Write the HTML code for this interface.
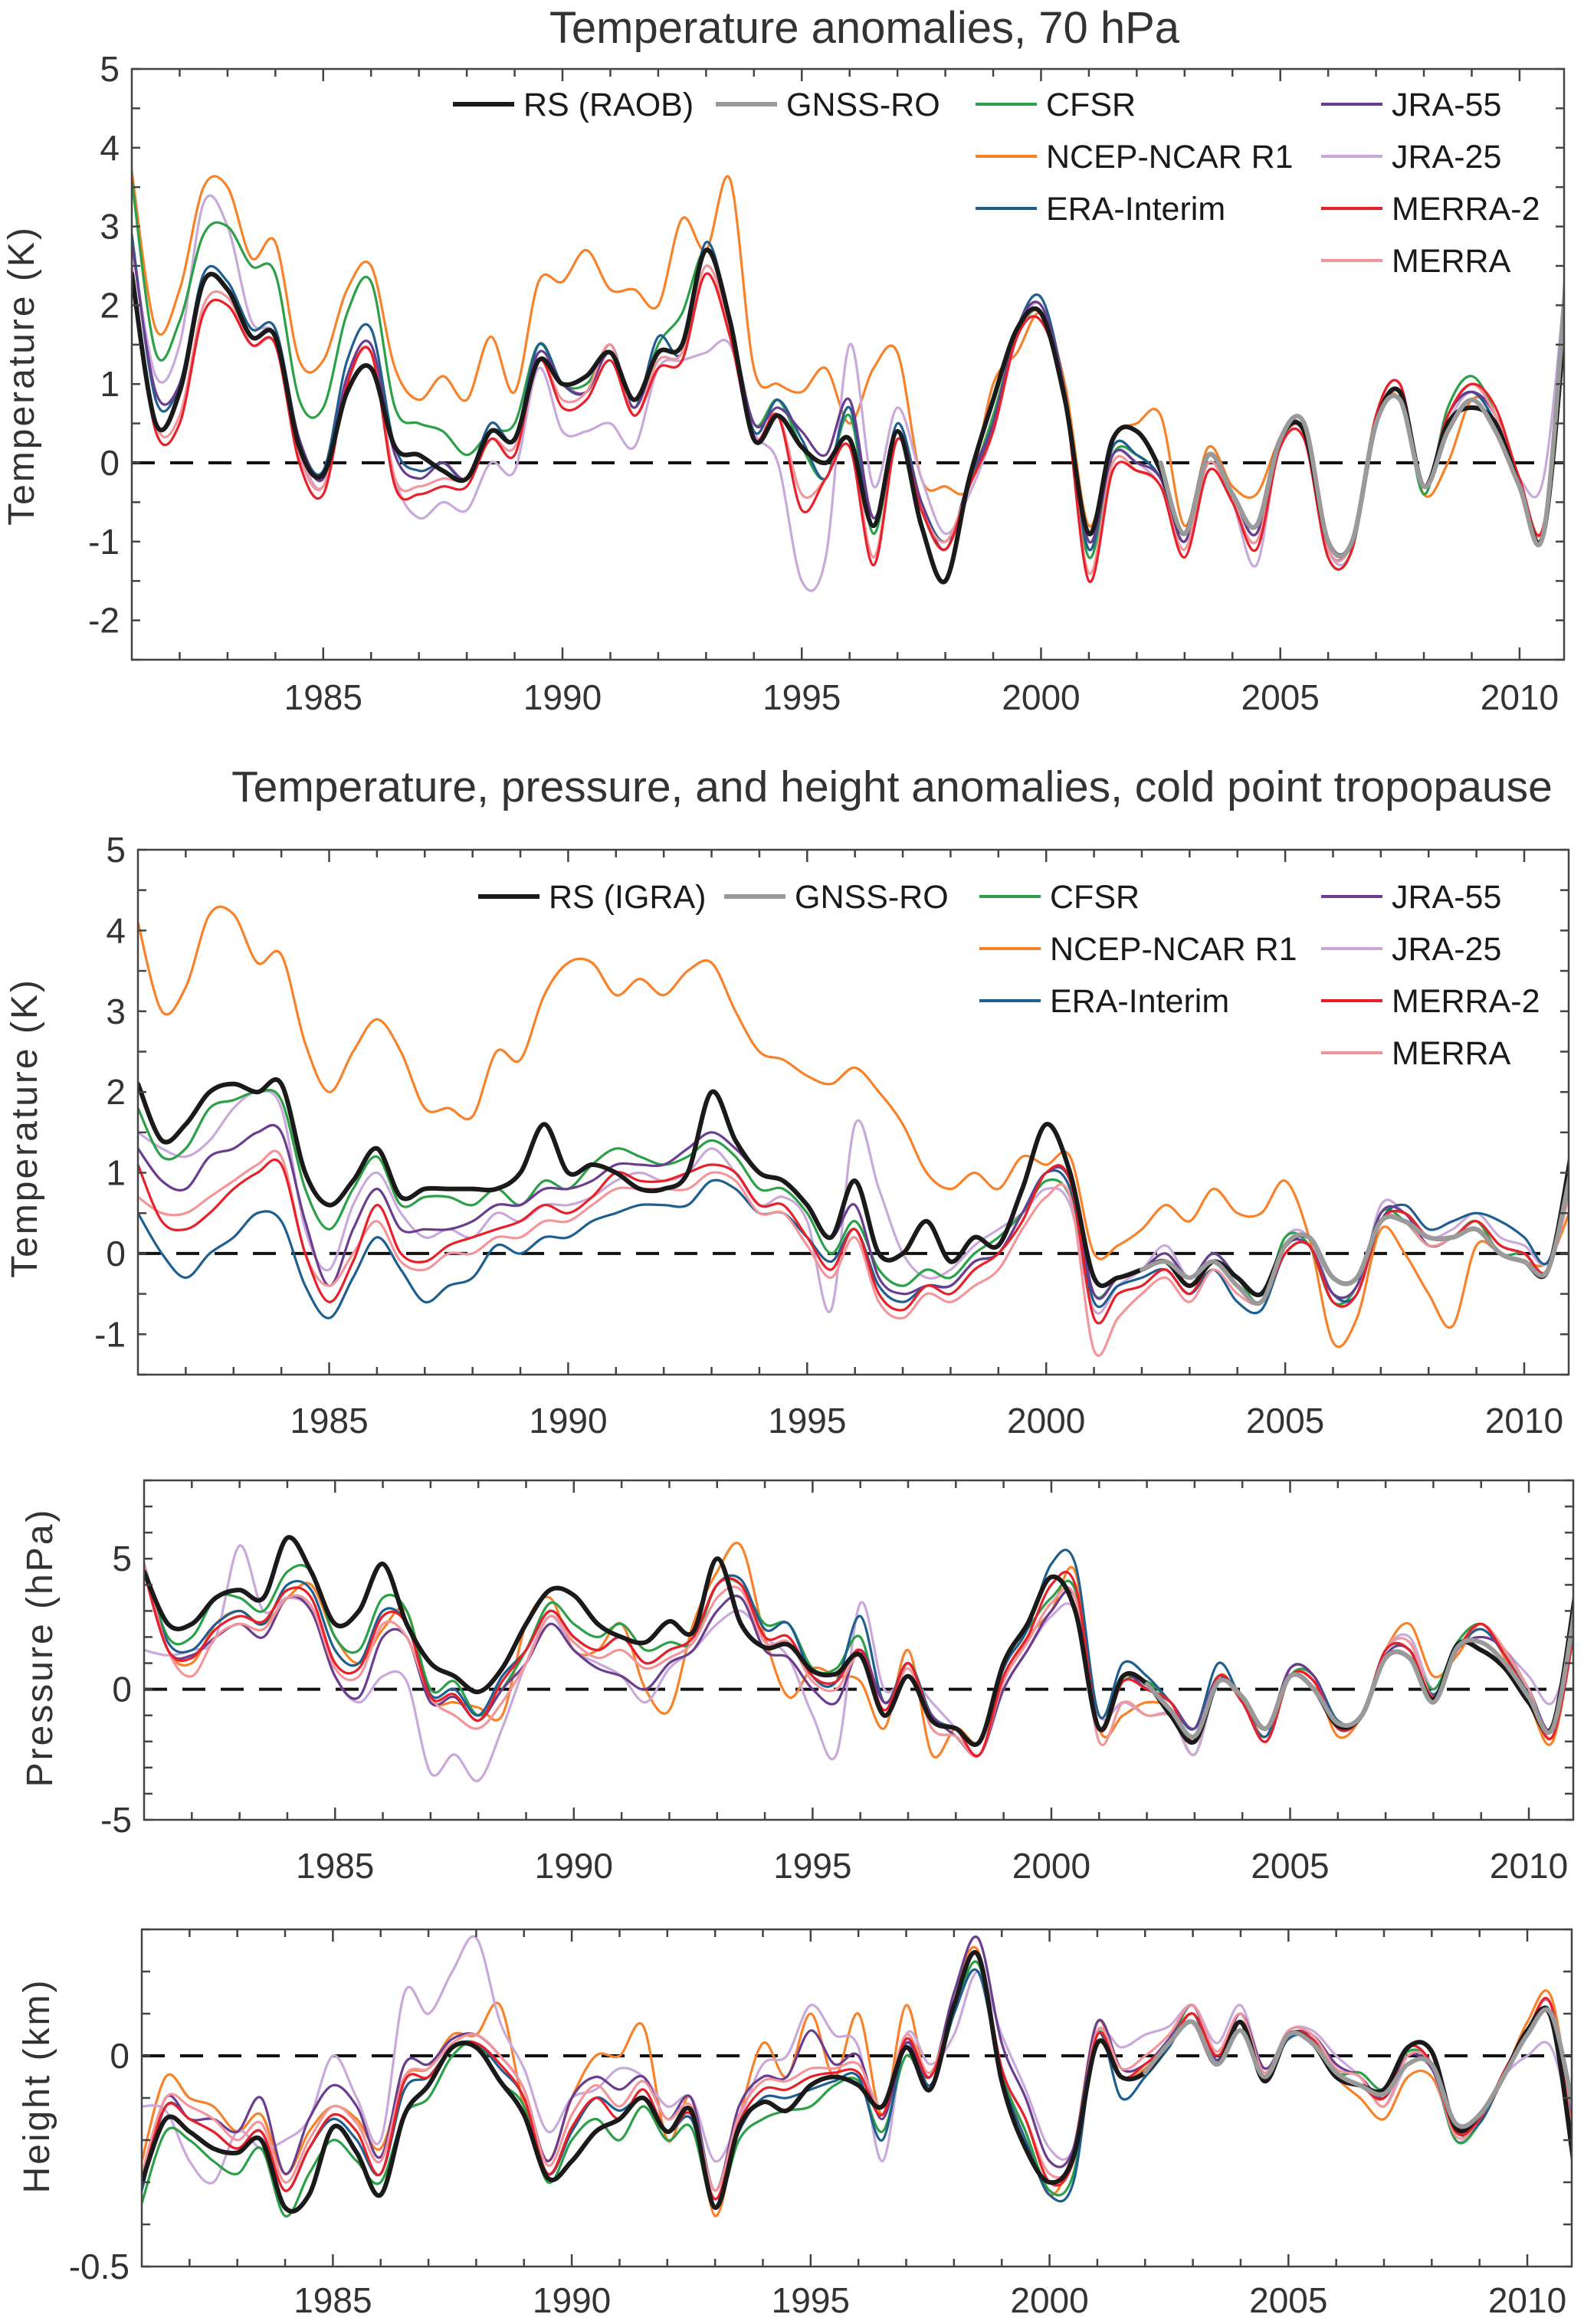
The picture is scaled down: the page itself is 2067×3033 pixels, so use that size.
<!DOCTYPE html>
<html><head><meta charset="utf-8">
<style>
html,body{margin:0;padding:0;background:#fff;}
svg{display:block;font-family:"Liberation Sans",Arial,sans-serif;}
</style></head>
<body>
<svg id="fig" width="2067" height="3033" viewBox="0 0 2067 3033" xmlns="http://www.w3.org/2000/svg">
<text x="1128" y="56" font-size="58" fill="#333" text-anchor="middle">Temperature  anomalies, 70 hPa</text>
<text x="1164" y="1046" font-size="57" fill="#333" text-anchor="middle">Temperature, pressure, and height anomalies, cold point tropopause</text>
</svg>
<script>
// time grid: half-year steps 1981.0 .. 2011.0
const years = []; for (let i = 0; i <= 60; i++) years.push(1981 + 0.5 * i);
const gnssStart = [43, 42, 42, 42];

// ---------- Panel 1: 70 hPa temperature (K) ----------
const p1_rs = [2.4,0.5,0.9,2.3,2.2,1.6,1.6,0.2,-0.15,0.9,1.2,0.2,0.1,-0.1,-0.2,0.4,0.3,1.3,1.0,1.1,1.4,0.8,1.4,1.5,2.7,1.8,0.3,0.6,0.2,0.0,0.3,-0.8,0.4,-0.8,-1.5,-0.2,0.8,1.7,1.9,0.8,-0.9,0.3,0.4,-0.1,-0.9,0.1,-0.4,-0.8,0.3,0.4,-1.0,-1.0,0.5,0.9,-0.3,0.5,0.7,0.5,-0.3,-0.9,2.2];
const p1_gnss = [0.0,-0.9,0.1,-0.4,-0.8,0.3,0.5,-1.0,-1.0,0.5,0.8,-0.3,0.4,0.8,0.4,-0.3,-0.9,2.6];
const p1_cfsr = [3.6,1.4,1.8,2.9,3.0,2.5,2.4,0.8,0.7,1.9,2.3,0.7,0.5,0.4,0.1,0.4,0.5,1.5,1.0,1.0,1.4,0.7,1.5,1.9,2.7,1.8,0.5,0.8,0.2,-0.2,0.6,-0.9,0.4,-0.6,-1.1,-0.3,0.6,1.6,1.9,0.8,-1.2,0.1,0.1,-0.2,-1.0,0.1,-0.4,-0.9,0.3,0.4,-1.2,-1.1,0.5,0.9,-0.4,0.7,1.1,0.6,-0.3,-0.9,2.4];
const p1_ncep = [3.7,1.7,2.2,3.5,3.5,2.6,2.8,1.3,1.3,2.2,2.5,1.2,0.8,1.1,0.8,1.6,0.9,2.3,2.3,2.7,2.2,2.2,2.0,3.1,2.7,3.6,1.2,1.0,0.9,1.2,0.5,1.2,1.4,-0.2,-0.3,-0.3,1.0,1.4,1.9,1.0,-0.8,0.3,0.5,0.6,-0.8,0.2,-0.3,-0.4,0.3,0.4,-1.1,-1.0,0.6,0.8,-0.4,0.0,0.8,0.6,-0.3,-0.8,2.3];
const p1_era = [2.9,0.8,1.0,2.4,2.3,1.7,1.7,0.3,-0.1,1.3,1.7,0.2,-0.1,0.0,-0.2,0.5,0.3,1.5,1.0,0.9,1.5,0.7,1.6,1.4,2.8,1.8,0.4,0.8,0.3,-0.2,0.7,-0.8,0.5,-0.5,-1.0,-0.3,0.5,1.7,2.1,0.9,-1.1,0.2,0.1,-0.2,-1.0,0.1,-0.4,-0.9,0.3,0.4,-1.1,-1.0,0.5,0.9,-0.3,0.6,0.9,0.5,-0.3,-0.9,2.3];
const p1_jra55 = [2.8,0.9,1.0,2.3,2.2,1.6,1.6,0.3,-0.2,1.1,1.5,0.1,-0.2,0.0,-0.2,0.4,0.3,1.4,1.0,0.9,1.4,0.7,1.4,1.5,2.7,1.8,0.5,0.7,0.4,0.1,0.8,-0.7,0.4,-0.5,-1.1,-0.2,0.5,1.7,2.0,0.9,-1.0,0.1,0.0,-0.2,-1.0,0.1,-0.4,-0.9,0.3,0.4,-1.1,-1.0,0.5,0.9,-0.3,0.6,0.9,0.6,-0.2,-0.9,2.3];
const p1_jra25 = [2.8,1.1,1.5,3.3,3.0,1.8,1.6,0.2,-0.3,1.0,1.4,-0.2,-0.7,-0.5,-0.6,0.0,-0.1,1.2,0.4,0.4,0.5,0.2,1.2,1.3,1.4,1.5,0.4,0.0,-1.5,-1.2,1.5,-0.3,0.7,-0.2,-0.9,-0.4,0.4,1.6,2.0,0.8,-1.1,0.1,0.0,-0.3,-1.0,0.0,-0.5,-1.3,0.3,0.4,-1.1,-1.1,0.6,1.0,-0.3,0.5,0.9,0.5,-0.2,-0.2,2.6];
const p1_merra2 = [2.4,0.4,0.5,1.9,2.0,1.5,1.5,0.0,-0.4,1.0,1.4,-0.3,-0.4,-0.3,-0.3,0.3,0.1,1.3,0.7,0.8,1.3,0.6,1.2,1.3,2.4,1.6,0.3,0.6,-0.6,-0.2,0.2,-1.3,0.3,-0.6,-1.1,-0.3,0.4,1.6,1.8,0.8,-1.5,-0.1,-0.1,-0.3,-1.2,-0.1,-0.5,-1.1,0.2,0.3,-1.2,-1.1,0.6,1.0,-0.3,0.6,1.0,0.7,-0.2,-0.8,2.3];
const p1_merra = [2.5,0.5,0.6,2.0,2.1,1.5,1.5,0.1,-0.3,1.0,1.4,-0.2,-0.3,-0.2,-0.2,0.3,0.2,1.3,0.8,0.9,1.5,0.6,1.3,1.4,2.5,1.7,0.3,0.6,-0.4,-0.2,0.3,-1.2,0.3,-0.6,-1.0,-0.3,0.4,1.6,1.9,0.8,-1.4,0.0,-0.1,-0.3,-1.1,0.0,-0.5,-1.0,0.2,0.4,-1.1,-1.0,0.6,1.0,-0.3,0.6,1.0,0.6,-0.2,-0.8,2.4];

// ---------- Panel 2: cold point temperature (K) ----------
const p2_rs = [2.1,1.4,1.6,2.0,2.1,2.0,2.1,1.0,0.6,0.9,1.3,0.7,0.8,0.8,0.8,0.8,1.0,1.6,1.0,1.1,1.0,0.8,0.8,1.0,2.0,1.4,1.0,0.9,0.6,0.2,0.9,0.0,0.0,0.4,-0.1,0.2,0.1,0.8,1.6,1.0,-0.3,-0.3,-0.2,-0.1,-0.4,-0.1,-0.3,-0.5,0.1,0.2,-0.3,-0.3,0.4,0.4,0.2,0.2,0.3,0.0,-0.1,-0.2,1.3];
const p2_gnss = [-0.2,-0.1,-0.3,-0.1,-0.4,-0.6,0.1,0.2,-0.3,-0.3,0.4,0.4,0.2,0.2,0.3,0.0,-0.1,-0.2,1.1];
const p2_cfsr = [1.8,1.2,1.3,1.8,1.9,2.0,1.9,0.8,0.3,0.8,1.2,0.6,0.7,0.7,0.6,0.8,0.6,0.9,0.8,1.1,1.3,1.2,1.1,1.2,1.4,1.2,0.8,0.8,0.5,0.0,0.4,-0.2,-0.4,-0.2,-0.3,0.0,0.2,0.5,0.9,0.7,-0.5,-0.3,-0.2,0.0,-0.3,0.0,-0.3,-0.6,0.2,0.1,-0.6,-0.4,0.5,0.4,0.1,0.2,0.4,0.0,0.0,-0.2,1.0];
const p2_ncep = [4.1,3.0,3.3,4.2,4.2,3.6,3.7,2.6,2.0,2.5,2.9,2.5,1.8,1.8,1.7,2.5,2.4,3.2,3.6,3.6,3.2,3.4,3.2,3.5,3.6,3.0,2.5,2.4,2.2,2.1,2.3,2.0,1.6,1.0,0.8,1.0,0.8,1.2,1.1,1.2,0.0,0.1,0.3,0.6,0.4,0.8,0.5,0.5,0.9,0.2,-1.1,-0.8,0.3,0.0,-0.5,-0.9,0.1,0.0,-0.1,-0.1,0.6];
const p2_era = [0.5,0.0,-0.3,0.0,0.2,0.5,0.4,-0.4,-0.8,-0.3,0.2,-0.2,-0.6,-0.4,-0.3,0.1,0.0,0.2,0.2,0.4,0.5,0.6,0.6,0.6,0.9,0.8,0.5,0.5,0.2,-0.1,0.3,-0.4,-0.6,-0.4,-0.4,-0.1,0.0,0.5,1.0,0.8,-0.6,-0.4,-0.3,-0.2,-0.5,-0.2,-0.6,-0.7,0.0,0.1,-0.5,-0.5,0.4,0.6,0.3,0.4,0.5,0.4,0.2,-0.1,1.0];
const p2_jra55 = [1.3,0.9,0.8,1.2,1.3,1.5,1.5,0.4,-0.4,0.3,0.8,0.3,0.3,0.3,0.4,0.6,0.6,0.8,0.8,0.9,1.1,1.1,1.1,1.3,1.5,1.3,1.0,0.9,0.6,0.2,0.6,-0.3,-0.5,-0.4,-0.4,-0.1,0.0,0.5,1.0,0.9,-0.5,-0.3,-0.2,0.0,-0.3,0.0,-0.3,-0.5,0.1,0.1,-0.5,-0.4,0.5,0.5,0.1,0.2,0.4,0.1,0.0,-0.2,1.0];
const p2_jra25 = [1.5,1.3,1.2,1.4,1.8,2.0,1.8,0.3,-0.2,0.6,1.0,0.5,0.2,0.3,0.2,0.5,0.4,0.6,0.6,0.7,0.9,1.0,0.9,1.0,1.3,1.0,0.6,0.7,0.4,-0.7,1.6,0.8,0.0,-0.3,-0.2,0.1,0.3,0.5,0.8,0.6,-0.7,-0.4,-0.2,0.1,-0.3,0.0,-0.3,-0.6,0.2,0.2,-0.5,-0.5,0.6,0.5,0.2,0.3,0.5,0.2,0.1,-0.1,1.0];
const p2_merra2 = [1.1,0.4,0.3,0.5,0.8,1.0,1.1,0.0,-0.6,-0.1,0.6,0.0,-0.1,0.1,0.2,0.3,0.4,0.6,0.5,0.7,1.0,0.9,0.9,1.0,1.1,1.0,0.6,0.6,0.2,-0.2,0.3,-0.5,-0.7,-0.4,-0.5,-0.2,0.0,0.4,1.0,0.9,-0.8,-0.5,-0.4,-0.2,-0.5,-0.1,-0.4,-0.6,0.0,0.1,-0.6,-0.5,0.4,0.5,0.2,0.2,0.4,0.1,0.0,-0.2,1.0];
const p2_merra = [0.7,0.5,0.5,0.7,0.9,1.1,1.2,0.0,-0.4,0.0,0.4,-0.1,-0.2,0.0,0.0,0.2,0.2,0.4,0.4,0.6,0.8,0.8,0.8,0.8,1.0,0.9,0.5,0.5,0.1,-0.3,0.2,-0.6,-0.8,-0.5,-0.6,-0.4,-0.2,0.3,0.7,0.7,-1.2,-0.8,-0.5,-0.3,-0.6,-0.2,-0.5,-0.6,0.0,0.1,-0.6,-0.5,0.4,0.4,0.1,0.2,0.4,0.1,0.0,-0.2,0.9];

// ---------- Panel 3: cold point pressure (hPa) ----------
const p3_rs = [4.5,2.5,2.5,3.5,3.8,3.5,5.8,4.5,2.5,3.0,4.8,2.5,1.0,0.5,-0.1,0.8,2.5,3.8,3.6,2.5,2.0,1.8,2.6,2.2,5.0,2.5,1.6,1.7,0.7,0.6,1.3,-1.0,0.5,-1.2,-1.5,-2.0,1.0,2.5,4.3,3.0,-1.5,0.5,0.2,-1.0,-2.0,0.3,-0.3,-1.5,0.5,0.0,-1.4,-1.0,1.2,1.2,-0.4,1.7,1.5,0.8,-0.5,-1.4,4.0];
const p3_gnss = [0.2,-0.8,-1.8,0.3,-0.3,-1.5,0.5,0.0,-1.3,-1.0,1.2,1.2,-0.5,1.6,1.8,1.0,-0.3,-1.5,3.5];
const p3_cfsr = [4.8,2.0,2.0,3.5,3.5,3.0,4.5,4.5,2.0,1.5,3.5,3.0,0.0,0.3,-1.0,0.0,1.5,3.3,2.5,2.0,2.5,1.5,1.8,1.8,4.0,4.0,2.5,2.5,0.8,0.8,2.0,-1.0,1.0,-1.0,-1.5,-2.0,1.0,2.3,3.5,3.8,-1.5,0.3,0.3,-0.5,-1.5,0.5,-0.5,-2.0,0.5,0.5,-1.5,-1.0,1.5,1.5,0.0,1.8,2.5,1.5,0.0,-1.5,3.0];
const p3_ncep = [4.8,1.5,1.0,2.5,3.0,2.5,3.5,4.0,2.0,1.0,2.3,3.0,-0.3,-0.5,-0.7,-1.0,2.5,3.5,1.5,1.5,2.5,0.0,-0.8,2.5,4.5,5.5,2.0,-0.3,0.8,0.5,0.3,-1.5,1.5,-2.5,-1.5,-2.0,0.5,2.0,3.0,4.5,-1.5,-1.0,-0.5,-0.8,-2.5,0.5,-0.5,-1.8,0.5,0.3,-1.8,-1.0,1.5,2.5,0.5,1.3,2.5,1.2,-0.5,-2.0,3.0];
const p3_era = [4.5,1.8,1.5,2.5,3.0,2.5,4.0,3.8,1.5,1.0,3.0,2.5,-0.2,0.0,-1.0,0.5,1.5,3.0,2.0,1.5,2.0,1.0,1.5,2.0,4.0,4.2,2.3,2.5,0.5,0.3,2.8,-0.5,1.0,-1.0,-1.5,-2.0,0.8,2.3,4.8,4.8,-1.0,1.0,0.5,-0.5,-1.5,1.0,-0.5,-1.8,0.8,0.5,-1.2,-1.0,1.5,1.5,-0.2,1.5,2.3,1.3,-0.2,-1.5,2.8];
const p3_jra55 = [4.5,1.5,1.3,2.0,2.5,2.0,3.5,3.0,0.5,-0.3,2.0,2.0,-0.5,-0.3,-1.2,0.0,1.0,2.5,1.5,0.8,0.5,0.0,1.0,1.5,3.0,3.5,1.5,1.2,0.0,-0.5,1.5,-0.5,0.5,-1.0,-1.8,-2.5,0.0,1.5,3.0,3.5,-1.5,0.5,0.0,-0.5,-1.5,0.5,-0.5,-1.5,0.8,0.5,-1.5,-1.0,1.3,1.5,-0.5,1.5,2.0,1.5,0.0,-1.5,2.8];
const p3_jra25 = [1.5,1.3,1.5,2.0,5.5,3.0,3.5,3.0,0.5,-0.5,0.5,0.3,-3.2,-2.5,-3.5,-1.5,1.0,2.8,1.5,1.0,0.5,-0.5,0.8,1.5,2.5,3.0,2.0,1.2,-1.0,-2.5,3.3,0.0,0.5,-0.5,-1.5,-2.5,0.0,1.5,2.8,3.0,-1.0,-0.5,-1.0,-1.0,-2.5,0.3,-0.5,-2.0,0.5,0.5,-1.5,-1.0,1.5,2.0,0.0,1.5,2.5,1.5,0.5,-0.5,2.5];
const p3_merra2 = [4.5,1.5,1.2,2.3,2.8,2.6,3.8,3.5,1.0,0.8,2.8,2.5,-0.3,-0.2,-1.2,0.3,1.5,3.0,2.0,1.5,2.0,1.0,1.5,2.0,4.0,4.0,2.0,2.0,0.5,0.3,1.5,-0.8,1.0,-1.2,-1.5,-2.5,0.5,2.0,4.0,4.0,-1.5,0.3,0.0,-0.5,-2.0,0.5,-0.5,-2.0,0.5,0.3,-1.5,-1.0,1.5,1.5,-0.3,1.5,2.5,1.3,-0.3,-1.8,2.8];
const p3_merra = [4.8,1.5,0.5,2.0,2.5,2.3,3.5,3.2,0.8,0.5,2.5,2.0,-0.3,-1.0,-1.5,-0.5,1.0,2.8,1.8,1.2,1.5,0.8,1.2,1.8,3.5,3.8,1.8,1.8,0.3,0.0,1.3,-1.0,0.8,-1.5,-1.8,-2.5,0.3,1.8,3.3,3.5,-2.0,-0.5,-1.0,-1.0,-2.0,0.3,-0.5,-2.0,0.5,0.3,-1.5,-1.0,1.5,1.8,-0.3,1.5,2.5,1.5,0.0,-1.8,2.8];

// ---------- Panel 4: cold point height (km) ----------
const p4_rs = [-0.30,-0.15,-0.18,-0.22,-0.23,-0.20,-0.36,-0.33,-0.17,-0.23,-0.33,-0.14,-0.07,0.02,0.02,-0.06,-0.14,-0.29,-0.25,-0.18,-0.15,-0.10,-0.18,-0.13,-0.36,-0.17,-0.11,-0.13,-0.07,-0.05,-0.07,-0.12,0.02,-0.08,0.12,0.24,-0.06,-0.22,-0.30,-0.24,0.03,-0.05,-0.04,0.03,0.08,-0.02,0.08,-0.06,0.05,0.03,-0.05,-0.07,-0.08,0.02,0.01,-0.17,-0.14,-0.05,0.06,0.09,-0.28];
const p4_gnss = [-0.04,0.03,0.08,-0.02,0.06,-0.05,0.05,0.03,-0.04,-0.07,-0.09,-0.02,-0.02,-0.16,-0.14,-0.05,0.05,0.10,-0.15];
const p4_cfsr = [-0.35,-0.18,-0.20,-0.25,-0.28,-0.22,-0.38,-0.28,-0.20,-0.25,-0.30,-0.14,-0.10,0.00,0.03,-0.06,-0.12,-0.30,-0.20,-0.15,-0.20,-0.12,-0.20,-0.17,-0.36,-0.20,-0.15,-0.13,-0.12,-0.07,-0.06,-0.18,0.00,-0.08,0.10,0.22,-0.04,-0.18,-0.32,-0.28,0.05,-0.05,-0.02,0.03,0.12,-0.01,0.08,-0.04,0.05,0.04,-0.04,-0.04,-0.08,0.01,-0.02,-0.20,-0.16,-0.05,0.06,0.09,-0.27];
const p4_ncep = [-0.25,-0.05,-0.10,-0.12,-0.18,-0.14,-0.28,-0.18,-0.12,-0.15,-0.22,-0.05,-0.03,0.05,0.05,0.12,-0.12,-0.25,-0.10,0.00,0.00,0.07,-0.20,-0.10,-0.38,-0.15,0.03,-0.05,0.10,-0.05,0.10,-0.14,0.12,-0.08,0.15,0.25,-0.05,-0.18,-0.33,-0.22,0.08,-0.05,-0.03,0.03,0.10,-0.02,0.10,-0.05,0.05,0.04,-0.05,-0.10,-0.15,-0.05,-0.05,-0.18,-0.16,-0.05,0.08,0.14,-0.20];
const p4_era = [-0.32,-0.12,-0.15,-0.18,-0.22,-0.18,-0.32,-0.22,-0.15,-0.20,-0.28,-0.08,-0.05,0.02,0.03,-0.03,-0.10,-0.28,-0.18,-0.10,-0.13,-0.10,-0.18,-0.15,-0.34,-0.18,-0.10,-0.10,-0.08,-0.06,-0.05,-0.20,0.03,-0.07,0.10,0.20,-0.05,-0.20,-0.33,-0.30,0.05,-0.10,-0.05,0.02,0.10,-0.02,0.08,-0.05,0.04,0.04,-0.05,-0.07,-0.10,0.00,-0.03,-0.18,-0.16,-0.05,0.05,0.10,-0.25];
const p4_jra55 = [-0.30,-0.10,-0.15,-0.15,-0.18,-0.10,-0.28,-0.15,-0.07,-0.12,-0.24,-0.02,-0.02,0.04,0.05,0.00,-0.08,-0.25,-0.10,-0.05,-0.08,-0.05,-0.15,-0.10,-0.32,-0.12,-0.05,-0.05,0.06,-0.02,0.00,-0.15,0.03,-0.05,0.15,0.28,0.03,-0.10,-0.25,-0.22,0.08,-0.03,-0.02,0.04,0.12,-0.01,0.10,-0.03,0.05,0.05,-0.02,-0.05,-0.10,0.00,-0.03,-0.17,-0.15,-0.04,0.06,0.12,-0.22];
const p4_jra25 = [-0.12,-0.13,-0.25,-0.30,-0.18,-0.22,-0.20,-0.15,0.00,-0.10,-0.20,0.15,0.10,0.20,0.28,0.08,-0.03,-0.18,-0.10,-0.08,-0.03,-0.05,-0.12,-0.10,-0.25,-0.15,-0.02,0.00,0.12,0.05,0.02,-0.25,0.05,-0.02,0.05,0.20,0.05,-0.08,-0.22,-0.22,0.05,0.02,0.05,0.07,0.12,0.03,0.12,-0.03,0.06,0.06,0.00,-0.05,-0.12,-0.02,-0.03,-0.20,-0.15,-0.05,0.00,0.02,-0.20];
const p4_merra2 = [-0.30,-0.12,-0.15,-0.18,-0.22,-0.18,-0.32,-0.22,-0.14,-0.18,-0.28,-0.06,-0.05,0.02,0.03,-0.02,-0.10,-0.28,-0.17,-0.10,-0.15,-0.08,-0.18,-0.14,-0.34,-0.16,-0.08,-0.08,-0.05,-0.04,-0.04,-0.14,0.04,-0.05,0.12,0.24,-0.03,-0.15,-0.30,-0.25,0.05,-0.05,-0.02,0.03,0.10,0.00,0.08,-0.05,0.05,0.04,-0.05,-0.07,-0.10,0.02,-0.02,-0.18,-0.15,-0.04,0.06,0.12,-0.26];
const p4_merra = [-0.28,-0.10,-0.12,-0.15,-0.20,-0.16,-0.30,-0.20,-0.12,-0.16,-0.25,-0.05,-0.03,0.03,0.05,0.00,-0.08,-0.26,-0.14,-0.07,-0.12,-0.06,-0.15,-0.12,-0.32,-0.14,-0.06,-0.06,-0.03,-0.03,-0.02,-0.12,0.05,-0.04,0.12,0.24,-0.03,-0.15,-0.28,-0.24,0.06,-0.03,0.00,0.05,0.12,0.01,0.10,-0.04,0.06,0.05,-0.03,-0.05,-0.12,0.00,-0.02,-0.19,-0.15,-0.04,0.06,0.12,-0.24];

const xTickYears = [1985, 1990, 1995, 2000, 2005, 2010];
const p1_yticks = [5,4,3,2,1,0,-1,-2];
const p2_yticks = [5,4,3,2,1,0,-1];
const p3_yticks = [5,0,-5];
const p4_yticks = [0,-0.5];

const NS = "http://www.w3.org/2000/svg";
const svg = document.getElementById("fig");
function mk(tag, attrs, parent) {
  const e = document.createElementNS(NS, tag);
  for (const k in attrs) e.setAttribute(k, attrs[k]);
  (parent || svg).appendChild(e);
  return e;
}
const COL = {rs:"#1a1a1a", gnss:"#9a9a9a", cfsr:"#2ca048", ncep:"#f7822a", era:"#1f5f8f", jra55:"#6a3d8f", jra25:"#c9a9da", merra2:"#e8202a", merra:"#f2969b"};

const panels = [
  {id:"p1", L:172, R:2041, T:90, B:861, y0:-2.5, y1:5, minor:0.5, yt:p1_yticks, ylab:"Temperature  (K)", ylx:44, yly:490, xly:926,
   s:{ncep:p1_ncep, jra25:p1_jra25, cfsr:p1_cfsr, era:p1_era, jra55:p1_jra55, merra:p1_merra, merra2:p1_merra2, rs:p1_rs, gnss:p1_gnss}, legend:"RS (RAOB)", legY:136, rsX:591},
  {id:"p2", L:180, R:2047, T:1109, B:1794, y0:-1.5, y1:5, minor:0.5, yt:p2_yticks, ylab:"Temperature  (K)", ylx:48, yly:1472, xly:1870,
   s:{ncep:p2_ncep, jra25:p2_jra25, cfsr:p2_cfsr, era:p2_era, jra55:p2_jra55, merra:p2_merra, merra2:p2_merra2, rs:p2_rs, gnss:p2_gnss}, legend:"RS (IGRA)", legY:1170, rsX:624},
  {id:"p3", L:188, R:2053, T:1932, B:2375, y0:-5, y1:8, minor:1, yt:p3_yticks, ylab:"Pressure (hPa)", ylx:68, yly:2150, xly:2451,
   s:{ncep:p3_ncep, jra25:p3_jra25, cfsr:p3_cfsr, era:p3_era, jra55:p3_jra55, merra:p3_merra, merra2:p3_merra2, rs:p3_rs, gnss:p3_gnss}},
  {id:"p4", L:185, R:2051, T:2518, B:2958, y0:-0.5, y1:0.3, minor:0.1, yt:p4_yticks, ylab:"Height (km)", ylx:64, yly:2722, xly:3018,
   s:{ncep:p4_ncep, jra25:p4_jra25, cfsr:p4_cfsr, era:p4_era, jra55:p4_jra55, merra:p4_merra, merra2:p4_merra2, rs:p4_rs, gnss:p4_gnss}}
];
const X0 = 1981.0, X1 = 2010.93;

function smoothPath(pts) {
  if (pts.length < 2) return "";
  let d = "M" + pts[0][0].toFixed(1) + "," + pts[0][1].toFixed(1);
  for (let i = 0; i < pts.length - 1; i++) {
    const p0 = pts[Math.max(0, i - 1)], p1 = pts[i], p2 = pts[i + 1], p3 = pts[Math.min(pts.length - 1, i + 2)];
    const c1x = p1[0] + (p2[0] - p0[0]) / 6, c1y = p1[1] + (p2[1] - p0[1]) / 6;
    const c2x = p2[0] - (p3[0] - p1[0]) / 6, c2y = p2[1] - (p3[1] - p1[1]) / 6;
    d += "C" + c1x.toFixed(1) + "," + c1y.toFixed(1) + " " + c2x.toFixed(1) + "," + c2y.toFixed(1) + " " + p2[0].toFixed(1) + "," + p2[1].toFixed(1);
  }
  return d;
}

panels.forEach((P, pi) => {
  const xs = yr => P.L + (yr - X0) / (X1 - X0) * (P.R - P.L);
  const ys = v => P.B - (v - P.y0) / (P.y1 - P.y0) * (P.B - P.T);
  const g = mk("g", {});
  
  
  const cp = mk("clipPath", {id:"clip" + pi}, g);
  mk("rect", {x:P.L, y:P.T, width:P.R - P.L, height:P.B - P.T}, cp);

  const z = mk("line", {x1:P.L, x2:P.R, y1:ys(0), y2:ys(0), stroke:"#111", "stroke-width":4, "stroke-dasharray":"30 20"}, g);
  
  

  const order = ["ncep","jra25","cfsr","era","jra55","merra","merra2","rs","gnss"];
  const sg = mk("g", {"clip-path":"url(#clip" + pi + ")"}, g);
  order.forEach(k => {
    const arr = P.s[k];
    const start = (k === "gnss") ? gnssStart[pi] : 0;
    const pts = [];
    for (let i = 0; i < arr.length && start + i < years.length; i++) pts.push([xs(years[start + i]), ys(arr[i])]);
    const w = (k === "rs" || k === "gnss") ? 6 : 3.2;
    const path = mk("path", {d:smoothPath(pts), fill:"none", stroke:COL[k], "stroke-width":w, "stroke-linejoin":"round", "stroke-linecap":"round"}, sg);
    
    
  });

  const box = mk("rect", {x:P.L, y:P.T, width:P.R - P.L, height:P.B - P.T, fill:"none", stroke:"#444", "stroke-width":2.5}, g);
  
  

  for (let yr = 1982; yr <= 2010; yr++) {
    const x = xs(yr), len = (yr % 5 === 0) ? 16 : 10;
    mk("line", {x1:x, x2:x, y1:P.B, y2:P.B - len, stroke:"#444", "stroke-width":2.5}, g);
    mk("line", {x1:x, x2:x, y1:P.T, y2:P.T + len, stroke:"#444", "stroke-width":2.5}, g);
  }
  xTickYears.forEach(yr => {
    const t = mk("text", {x:xs(yr), y:P.xly, "font-size":46, fill:"#333", "text-anchor":"middle"}, g);
    t.textContent = yr;
    
    
  });
  for (let v = P.y0; v <= P.y1 + 1e-9; v += P.minor) {
    const y = ys(v);
    mk("line", {x1:P.L, x2:P.L + 11, y1:y, y2:y, stroke:"#444", "stroke-width":2.5}, g);
    mk("line", {x1:P.R, x2:P.R - 11, y1:y, y2:y, stroke:"#444", "stroke-width":2.5}, g);
  }
  P.yt.forEach(v => {
    const t = mk("text", {x:P.L - 16, y:ys(v) + 16, "font-size":46, fill:"#333", "text-anchor":"end"}, g);
    t.textContent = v;
    
    
  });
  const yl = mk("text", {x:P.ylx, y:P.yly, "font-size":48, "letter-spacing":3, fill:"#333", "text-anchor":"middle", transform:"rotate(-90 " + P.ylx + " " + P.yly + ")"}, g);
  yl.textContent = P.ylab;
  
  

  if (P.legend) {
    const rowH = 68;
    const entries = [
      {k:"rs", label:P.legend, x:P.rsX, r:0},
      {k:"gnss", label:"GNSS-RO", x:pi === 0 ? 934 : 945, r:0},
      {k:"cfsr", label:"CFSR", x:pi === 0 ? 1273 : 1278, r:0},
      {k:"ncep", label:"NCEP-NCAR R1", x:pi === 0 ? 1273 : 1278, r:1},
      {k:"era", label:"ERA-Interim", x:pi === 0 ? 1273 : 1278, r:2},
      {k:"jra55", label:"JRA-55", x:1724, r:0},
      {k:"jra25", label:"JRA-25", x:1724, r:1},
      {k:"merra2", label:"MERRA-2", x:1724, r:2},
      {k:"merra", label:"MERRA", x:1724, r:3}
    ];
    const lg = mk("g", {}, g);
    
    
    entries.forEach(en => {
      const y = P.legY + en.r * rowH;
      const eg = mk("g", {}, lg);
      
      
      mk("line", {x1:en.x, x2:en.x + 80, y1:y, y2:y, stroke:COL[en.k], "stroke-width":(en.k === "rs" || en.k === "gnss") ? 6 : 4}, eg);
      const t = mk("text", {x:en.x + 92, y:y + 15, "font-size":43, fill:"#1a1a1a"}, eg);
      t.textContent = en.label;
    });
  }
});
</script>
</body></html>
